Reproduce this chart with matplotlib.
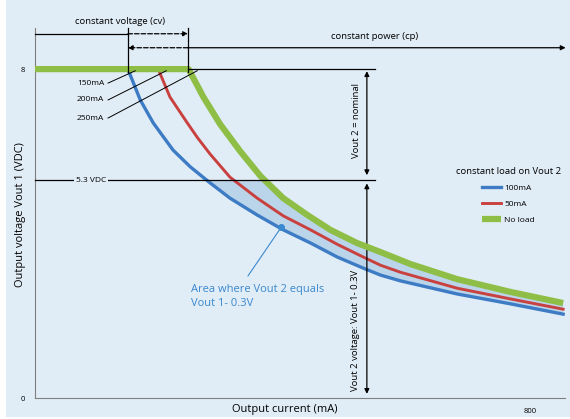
import matplotlib.pyplot as plt
from matplotlib.patches import Rectangle

plt.rcParams['font.family'] = ['Open Sans', 'DejaVu Sans']

# output current (mA) and output voltage Vout 1 (V)
currentBlue = [150, 170, 191, 223, 251, 283, 315, 359, 401, 445, 488, 530, 558, 590, 682, 768, 853]
voltsBlue = [8.0, 7.25, 6.69, 6.03, 5.62, 5.23, 4.86, 4.45, 4.09, 3.77, 3.43, 3.16, 2.99, 2.85, 2.53, 2.29, 2.04]
currentRed = [199, 218, 246, 263, 283, 315, 359, 401, 445, 488, 530, 558, 590, 682, 768, 853]
voltsRed = [8.0, 7.32, 6.69, 6.32, 5.93, 5.37, 4.86, 4.43, 4.09, 3.74, 3.43, 3.23, 3.06, 2.67, 2.41, 2.16]
currentGreen = [0, 248, 272, 299, 331, 364, 401, 440, 477, 520, 558, 606, 682, 768, 853]
voltsGreen = [8.0, 8.0, 7.32, 6.66, 6.01, 5.40, 4.86, 4.45, 4.09, 3.77, 3.55, 3.26, 2.89, 2.58, 2.31]
seriesNames = ["100mA", "50mA", "No load"]
kneeLabels = ["150mA", "200mA", "250mA"]
kneeCurrents = [150, 200, 250]
vNominal = 8
vSplit = 5.3
cvEnd = 150
cpStart = 247

bg = "#e1edf6"
blue = "#3d7cc5"
red = "#c9413f"
green = "#8fbe47"
areaBlue = "#3a88cf"

fig = plt.figure(figsize=(5.7, 4.19), dpi=100)
fig.patch.set_facecolor("white")
fig.patches.append(Rectangle((6 / 570, 2 / 419), 1, 1, transform=fig.transFigure,
                             facecolor=bg, edgecolor="none", zorder=-10))
ax = fig.add_axes([35 / 570, 21 / 419, 530 / 570, 370 / 419])
ax.set_facecolor(bg)
ax.set_xlim(0, 856)
ax.set_ylim(0, 9)

# shaded band between "no load" and 100mA curves, below 5.3 V
band = ax.fill(currentGreen + currentBlue[::-1], voltsGreen + voltsBlue[::-1],
               color="#bad5ea", lw=0, zorder=1)[0]
band.set_clip_path(Rectangle((0, 0), 900, vSplit, transform=ax.transData))

ax.plot(currentBlue, voltsBlue, color=blue, lw=2.4, zorder=3, label=seriesNames[0])
ax.plot(currentRed, voltsRed, color=red, lw=2.1, zorder=3, label=seriesNames[1])
ax.plot(currentGreen, voltsGreen, color=green, lw=4.5, zorder=4, label=seriesNames[2],
        solid_capstyle="butt")

k = dict(color="black", lw=0.9, clip_on=False, zorder=5)
arrow = dict(lw=0.9, color="black", mutation_scale=7, shrinkA=0, shrinkB=0)

# constant voltage / constant power brackets
ax.plot([cvEnd, cvEnd], [7.93, 9.0], **k)
ax.plot([cpStart, cpStart], [7.93, 9.0], **k)
ax.plot([0, cvEnd], [8.86, 8.86], **k)
ax.annotate("", xy=(cpStart, 8.86), xytext=(cvEnd, 8.86), annotation_clip=False,
            arrowprops=dict(arrowstyle="-|>", ls="--", **arrow))
ax.annotate("", xy=(cvEnd, 8.52), xytext=(cpStart, 8.52), annotation_clip=False,
            arrowprops=dict(arrowstyle="-|>", ls="--", **arrow))
ax.annotate("", xy=(857, 8.52), xytext=(cpStart, 8.52), annotation_clip=False,
            arrowprops=dict(arrowstyle="-|>", **arrow))
ax.text(137, 9.16, "constant voltage (cv)", fontsize=6.8, ha="center", va="center")
ax.text(548, 8.8, "constant power (cp)", fontsize=6.8, ha="center", va="center")

# nominal and 5.3 V reference lines
ax.plot([cpStart, 549], [vNominal, vNominal], **k)
ax.plot([0, 549], [vSplit, vSplit], **k)
ax.text(90, vSplit, "5.3 VDC", fontsize=6, ha="center", va="center", zorder=6,
        bbox=dict(facecolor=bg, edgecolor="none", pad=1.5))
ax.annotate("", xy=(536, 7.95), xytext=(536, 5.42), arrowprops=dict(arrowstyle="<|-|>", **arrow))
ax.text(520, 6.76, "Vout 2 = nominal", fontsize=6.8, rotation=90, ha="center", va="center")
ax.annotate("", xy=(536, 5.22), xytext=(536, 0.1), arrowprops=dict(arrowstyle="<|-|>", **arrow))
ax.text(517, 1.65, "Vout 2 voltage: Vout 1- 0.3V", fontsize=6.8, rotation=90,
        ha="center", va="center")

# knee labels
labelY = [7.66, 7.25, 6.81]
for lab, cur, yy in zip(kneeLabels, kneeCurrents, labelY):
    ax.text(112, yy, lab, fontsize=6, ha="right", va="center")
    ax.plot([118, cur + 12], [yy, 7.96], color="black", lw=0.7, zorder=5)

# area annotation
ax.plot([344, 398], [2.97, 4.16], color=areaBlue, lw=0.8, zorder=5)
ax.plot([398], [4.16], "o", color=areaBlue, ms=4, zorder=6)
ax.text(252, 2.47, "Area where Vout 2 equals\nVout 1- 0.3V", fontsize=8,
        color=areaBlue, ha="left", va="center", linespacing=1.3)

leg = ax.legend(loc="upper center", bbox_to_anchor=(0.893, 0.645), frameon=False,
                title="constant load on Vout 2", title_fontsize=6.8, fontsize=6,
                handlelength=2.3, labelspacing=1.0, handletextpad=0.35)

for s in ["top", "right"]:
    ax.spines[s].set_visible(False)
for s in ["left", "bottom"]:
    ax.spines[s].set_color("#7f7f7f")
ax.set_yticks([0, 8])
ax.set_yticklabels(["0", "8"], fontsize=5.5)
ax.set_xticks([800])
ax.set_xticklabels(["800"], fontsize=5.5)
ax.tick_params(axis="y", length=0, pad=7)
ax.tick_params(axis="x", length=0, pad=7)
ax.set_ylabel("Output voltage Vout 1 (VDC)", fontsize=8)
ax.set_xlabel("Output current (mA)", fontsize=8)
ax.yaxis.set_label_coords(-0.028, 0.495)
ax.yaxis.label.set_verticalalignment("center")
ax.xaxis.set_label_coords(0.472, -0.032)
ax.xaxis.label.set_verticalalignment("center")

fig.savefig("out.png", dpi=100, facecolor=fig.get_facecolor())
